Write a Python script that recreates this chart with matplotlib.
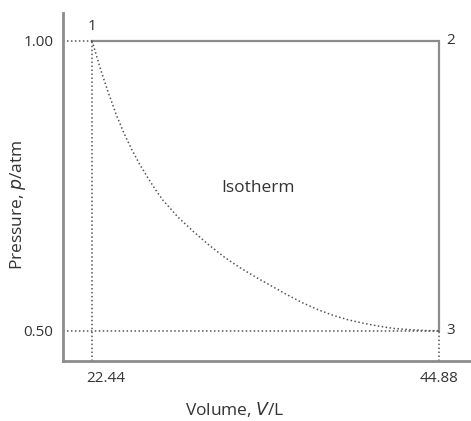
import matplotlib
matplotlib.use("Agg")
import matplotlib.pyplot as plt
from matplotlib.transforms import ScaledTranslation

plt.rcParams['font.family'] = ['Open Sans', 'DejaVu Sans']

# corner points of the cycle
v1, p1 = 22.44, 1.00
v2, p2 = 44.88, 1.00
v3, p3 = 44.88, 0.50

# dotted isotherm curve
curve_v = [22.44, 23.0, 23.5, 24.0, 24.5, 25.0, 25.5, 26.0, 26.5, 27.0,
           28.0, 29.0, 30.0, 31.0, 32.0, 33.0, 34.0, 35.0, 36.0, 37.0,
           38.0, 39.0, 40.0, 41.0, 42.0, 43.0, 44.0, 44.88]
curve_p = [1.000, 0.950, 0.910, 0.873, 0.841, 0.813, 0.788, 0.766, 0.745, 0.726,
           0.696, 0.671, 0.648, 0.627, 0.609, 0.593, 0.578, 0.563, 0.549, 0.537,
           0.527, 0.519, 0.513, 0.508, 0.504, 0.502, 0.5005, 0.500]

xticks = [22.44, 44.88]
yticks = [0.50, 1.00]

spine_col = "#8c8c8c"
dot_col = "#555555"
text_col = "#333333"

fig = plt.figure(figsize=(4.71, 4.21), dpi=100)
ax = fig.add_axes([63/471, 60/421, 1 - 63/471, 348/421])
ax.set_xlim(20.56, 46.95)
ax.set_ylim(0.448, 1.048)

# solid path 1 -> 2 -> 3
ax.plot([v1, v2, v3], [p1, p2, p3], color=spine_col, lw=1.6, solid_joinstyle="miter")

# dotted guides
dots = dict(ls=(0, (1, 1.6)), color=dot_col, lw=1.1)
ax.plot([20.56, v1], [p1, p1], **dots)
ax.plot([v1, v1], [0.448, p1], **dots)
ax.plot([20.56, v3], [p3, p3], **dots)
ax.plot([v3, v3], [0.448, p3], **dots)

# isotherm
ax.plot(curve_v, curve_p, **dots)

ax.text(v1, p1 + 0.012, "1", ha="center", va="bottom", fontsize=11, color=text_col)
ax.text(v2 + 0.5, p2, "2", ha="left", va="center", fontsize=11, color=text_col)
ax.text(v3 + 0.5, p3, "3", ha="left", va="center", fontsize=11, color=text_col)
ax.text(33.17, 0.747, "Isotherm", ha="center", va="center", fontsize=12.5, color=text_col)

for s in ["top", "right"]:
    ax.spines[s].set_visible(False)
for s in ["left", "bottom"]:
    ax.spines[s].set_color(spine_col)
    ax.spines[s].set_linewidth(2)

ax.set_xticks(xticks)
ax.set_xticklabels(["%.2f" % t for t in xticks])
ax.set_yticks(yticks)
ax.set_yticklabels(["%.2f" % t for t in yticks])
ax.tick_params(length=0, labelsize=11, labelcolor=text_col)
ax.tick_params(axis="x", pad=7)
ax.tick_params(axis="y", pad=7)

# first x label sits a bit right of its tick
lab = ax.get_xticklabels()[0]
lab.set_transform(lab.get_transform() + ScaledTranslation(14/100, 0, fig.dpi_scale_trans))

ax.set_xlabel("Volume, $\\it{V}$/L", fontsize=12.5, color=text_col)
ax.set_ylabel("Pressure, $\\it{p}$/atm", fontsize=12.5, color=text_col)
ax.xaxis.set_label_coords(0.42, -0.112)
ax.yaxis.set_label_coords(-0.085, 0.45)

fig.savefig("out.png", dpi=100, facecolor="white")
